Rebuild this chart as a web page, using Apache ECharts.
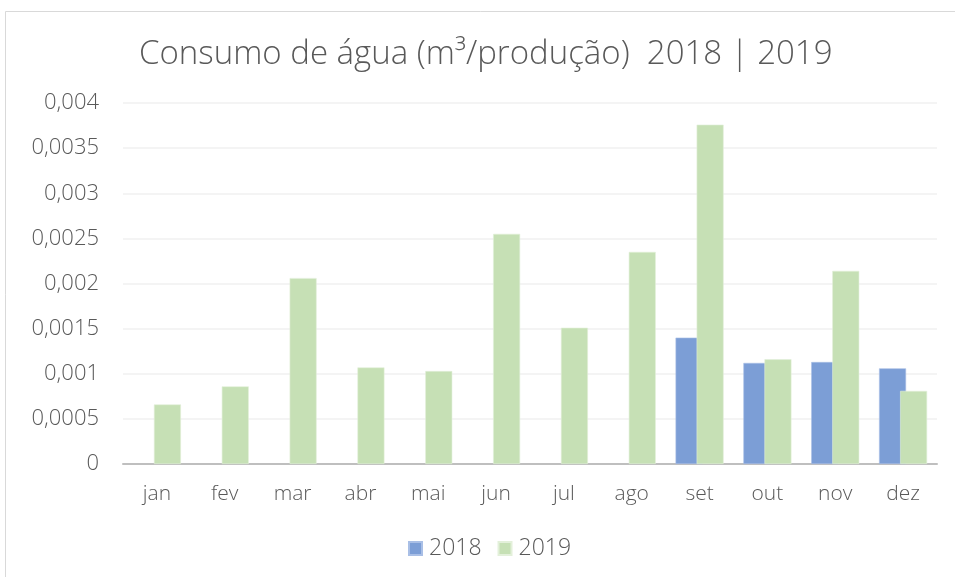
<!DOCTYPE html>
<html>
<head>
<meta charset="utf-8">
<script src="https://cdn.jsdelivr.net/npm/echarts@6/dist/echarts.min.js"></script>
<style>html,body{margin:0;padding:0;background:#fff}#c{width:955px;height:577px}</style>
</head>
<body>
<div id="c"></div>
<script>
const categories = ['jan','fev','mar','abr','mai','jun','jul','ago','set','out','nov','dez'];
const values2018 = [null,null,null,null,null,null,null,null,0.0014,0.00112,0.00113,0.00106];
const values2019 = [0.00066,0.00086,0.00206,0.00107,0.00103,0.00255,0.00151,0.00235,0.00376,0.00116,0.00214,0.00081];
const seriesNames = ['2018','2019'];
const titleText = 'Consumo de água (m³/produção)  2018 | 2019';

const font = 'Open Sans';
const chart = echarts.init(document.getElementById('c'), null, {renderer:'canvas'});
chart.setOption({
  animation:false,
  backgroundColor:'#fff',
  graphic:[{type:'rect', shape:{x:5.5,y:11.5,width:970,height:600}, style:{fill:'none',stroke:'#d9d9d9',lineWidth:1}, silent:true}],
  title:{text:titleText,left:134,top:33,textStyle:{fontFamily:font,fontSize:33,fontWeight:300,color:'#595959'}},
  legend:{bottom:12,left:403,itemWidth:13,itemHeight:13,itemGap:16,icon:'rect',
    textStyle:{fontFamily:font,fontSize:23,fontWeight:300,color:'#595959',padding:[0,0,0,2]},data:seriesNames},
  grid:{left:123,right:18,top:103,bottom:113,containLabel:false},
  xAxis:{type:'category',data:categories,
    axisLine:{lineStyle:{color:'#bfbfbf',width:2}},axisTick:{show:false},
    axisLabel:{fontFamily:font,fontSize:21,fontWeight:300,color:'#595959',margin:20}},
  yAxis:{type:'value',min:0,max:0.004,interval:0.0005,
    axisLine:{show:false},axisTick:{show:false},
    splitLine:{lineStyle:{color:'#f0f0f0',width:1.5}},
    axisLabel:{fontFamily:font,fontSize:22,fontWeight:300,color:'#595959',margin:24,
      formatter:v=>String(parseFloat(v.toFixed(6))).replace('.',',')}},
  series:[
    {name:seriesNames[0],type:'bar',data:values2018,barWidth:27,barGap:'-22%',
      itemStyle:{color:'#7c9ed6',borderColor:'#a9bfe6',borderWidth:0.6}},
    {name:seriesNames[1],type:'bar',data:values2019,barWidth:27,
      itemStyle:{color:'#c6e0b5',borderColor:'#e3f0da',borderWidth:0.6}}
  ]
});
</script>
</body>
</html>
